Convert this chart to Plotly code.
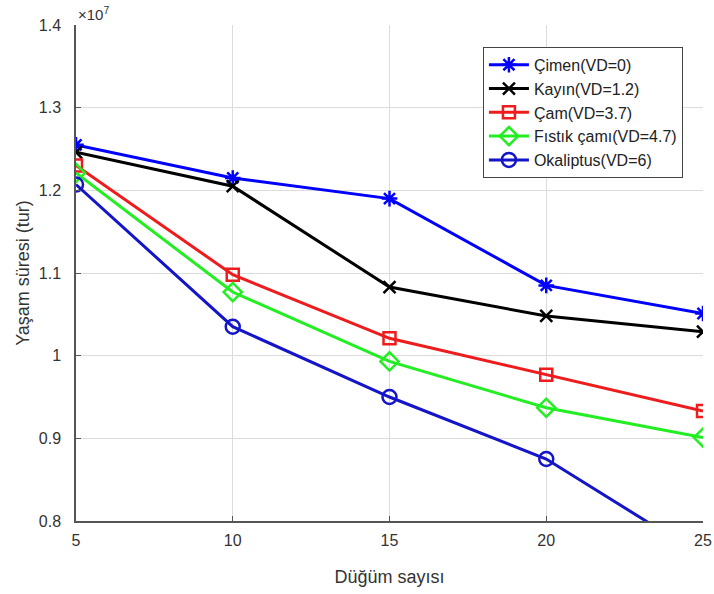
import plotly.graph_objects as go

x_nodes = [5, 10, 15, 20, 25]

cimen = [1.255, 1.215, 1.190, 1.085, 1.051]
kayin = [1.246, 1.205, 1.083, 1.048, 1.029]
cam = [1.230, 1.098, 1.021, 0.977, 0.933]
fistik = [1.221, 1.077, 0.993, 0.937, 0.901]
okaliptus = [1.207, 1.035, 0.950, 0.875, 0.757]

names = ["Çimen(VD=0)", "Kayın(VD=1.2)", "Çam(VD=3.7)", "Fıstık çamı(VD=4.7)", "Okaliptus(VD=6)"]
series = [cimen, kayin, cam, fistik, okaliptus]
colors = ["#0000ff", "#000000", "#ee1c1c", "#22ee22", "#1414c8"]
symbols = ["asterisk-open", "x-thin-open", "square-open", "diamond-open", "circle-open"]
sizes = [13, 12, 12, 14, 14]

y_ticks = [0.8, 0.9, 1.0, 1.1, 1.2, 1.3, 1.4]
y_ticktext = ["0.8", "0.9", "1", "1.1", "1.2", "1.3", "1.4"]
x_ticks = [5, 10, 15, 20, 25]

fig = go.Figure()
for name, ys, c, s, sz in zip(names, series, colors, symbols, sizes):
    fig.add_trace(go.Scatter(
        x=x_nodes, y=ys, name=name, mode="lines+markers",
        line=dict(color=c, width=3),
        marker=dict(symbol=s, size=sz, color=c, line=dict(color=c, width=2.5)),
    ))

axis_common = dict(
    showgrid=True, gridcolor="#dcdcdc", gridwidth=1,
    showline=True, linecolor="#555555", linewidth=1.5,
    ticks="inside", ticklen=5, tickcolor="#555555",
    tickfont=dict(family="Liberation Sans, Arial", size=16, color="#333333"),
    zeroline=False, mirror=False, automargin=False,
)

fig.update_layout(
    width=714, height=594,
    margin=dict(l=76, r=11, t=25, b=73, autoexpand=False),
    paper_bgcolor="white", plot_bgcolor="white",
    font=dict(family="Liberation Sans, Arial", color="#333333"),
    xaxis=dict(range=[5, 25], tickvals=x_ticks, ticklabelstandoff=4,
               title=dict(text="Düğüm sayısı", font=dict(size=18, color="#333333"), standoff=22),
               **axis_common),
    yaxis=dict(range=[0.8, 1.4], tickvals=y_ticks, ticktext=y_ticktext, ticklabelstandoff=10,
               title=dict(text="Yaşam süresi (tur)", font=dict(size=18, color="#333333"), standoff=4),
               **axis_common),
    legend=dict(x=0.649, y=0.956, xanchor="left", yanchor="top",
                bgcolor="white", bordercolor="#444444", borderwidth=1,
                font=dict(family="Liberation Sans, Arial", size=16, color="#222222"),
                tracegroupgap=0, itemwidth=40),
    showlegend=True,
    annotations=[dict(text="×10<sup>7</sup>", xref="paper", yref="paper",
                      x=0.0, y=1.0, xanchor="left", yanchor="bottom",
                      showarrow=False, font=dict(size=15, color="#333333"))],
)

fig.write_html(
    "out.html",
    config={"displayModeBar": False},
    post_script="document.body.style.margin='0px';document.body.style.overflow='hidden';",
)
